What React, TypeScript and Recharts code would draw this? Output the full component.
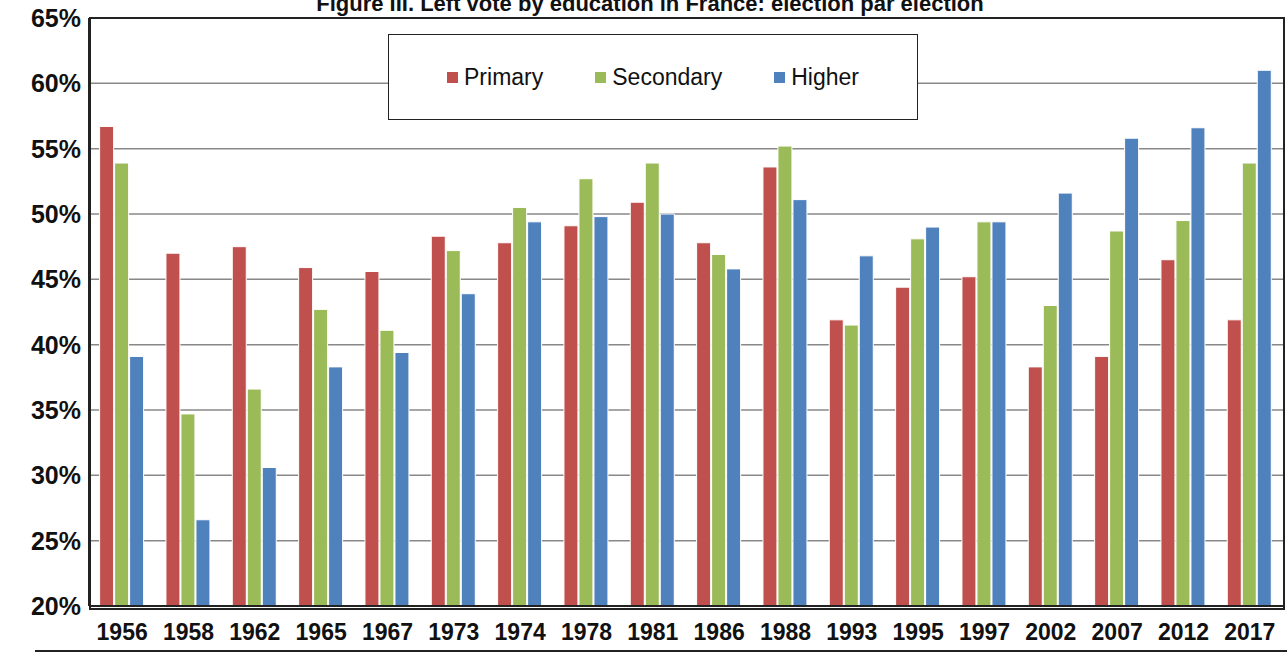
import { BarChart, Bar, XAxis, YAxis, CartesianGrid } from "recharts";

const years = ["1956", "1958", "1962", "1965", "1967", "1973", "1974", "1978", "1981", "1986", "1988", "1993", "1995", "1997", "2002", "2007", "2012", "2017"];
const primary = [56.7, 47.0, 47.5, 45.9, 45.6, 48.3, 47.8, 49.1, 50.9, 47.8, 53.6, 41.9, 44.4, 45.2, 38.3, 39.1, 46.5, 41.9];
const secondary = [53.9, 34.7, 36.6, 42.7, 41.1, 47.2, 50.5, 52.7, 53.9, 46.9, 55.2, 41.5, 48.1, 49.4, 43.0, 48.7, 49.5, 53.9];
const higher = [39.1, 26.6, 30.6, 38.3, 39.4, 43.9, 49.4, 49.8, 50.0, 45.8, 51.1, 46.8, 49.0, 49.4, 51.6, 55.8, 56.6, 61.0];
const yTicks = [20, 25, 30, 35, 40, 45, 50, 55, 60, 65];

const data = years.map((y, i) => ({ year: y, primary: primary[i], secondary: secondary[i], higher: higher[i] }));

const font = "'Liberation Sans', Arial, sans-serif";
const colors = { primary: "#c0504d", secondary: "#9bbb59", higher: "#4f81bd" };

export default function App() {
  return (
    <div style={{ position: "absolute", left: 0, top: 0, width: 1287, height: 653, background: "#fff", overflow: "hidden", fontFamily: font }}>
      <div style={{ position: "absolute", top: -9, left: 0, width: 1300, textAlign: "center", fontSize: 22, fontWeight: "bold", color: "#111" }}>
        Figure III. Left vote by education in France: election par election
      </div>
      <BarChart width={1287} height={653} data={data} margin={{ top: 18, right: 4, left: 0, bottom: 17 }} barCategoryGap="16%" barGap={1}>
        <CartesianGrid vertical={false} stroke="#888" strokeWidth={1.5} />
        <XAxis dataKey="year" tickLine={false} axisLine={{ stroke: "#222", strokeWidth: 2 }} tick={{ fontSize: 23, fontWeight: "bold", fill: "#111", fontFamily: font }} interval={0} dy={10} />
        <YAxis width={89} domain={[20, 65]} ticks={yTicks} tickFormatter={(v) => `${v}%`} tickLine={false} axisLine={{ stroke: "#222", strokeWidth: 2 }} tick={{ fontSize: 25, fontWeight: "bold", fill: "#111", fontFamily: font }} allowDataOverflow />
        <Bar dataKey="primary" fill={colors.primary} stroke="#fff" strokeWidth={1} isAnimationActive={false} />
        <Bar dataKey="secondary" fill={colors.secondary} stroke="#fff" strokeWidth={1} isAnimationActive={false} />
        <Bar dataKey="higher" fill={colors.higher} stroke="#fff" strokeWidth={1} isAnimationActive={false} />
      </BarChart>
      <div style={{ position: "absolute", left: 89, top: 17, width: 1192, height: 589, border: "2px solid #222", pointerEvents: "none" }} />
      <div style={{ position: "absolute", left: 388, top: 34, width: 528, height: 84, border: "1.5px solid #222", background: "#fff", display: "flex", alignItems: "center", justifyContent: "center", gap: 52, fontSize: 23, color: "#111" }}>
        {[["Primary", colors.primary], ["Secondary", colors.secondary], ["Higher", colors.higher]].map(([name, c]) => (
          <span key={name} style={{ display: "flex", alignItems: "center" }}>
            <span style={{ display: "inline-block", width: 11, height: 11, background: c, marginRight: 6 }} />
            {name}
          </span>
        ))}
      </div>
      <div style={{ position: "absolute", left: 35, top: 650, width: 1252, height: 2, background: "#222" }} />
    </div>
  );
}
